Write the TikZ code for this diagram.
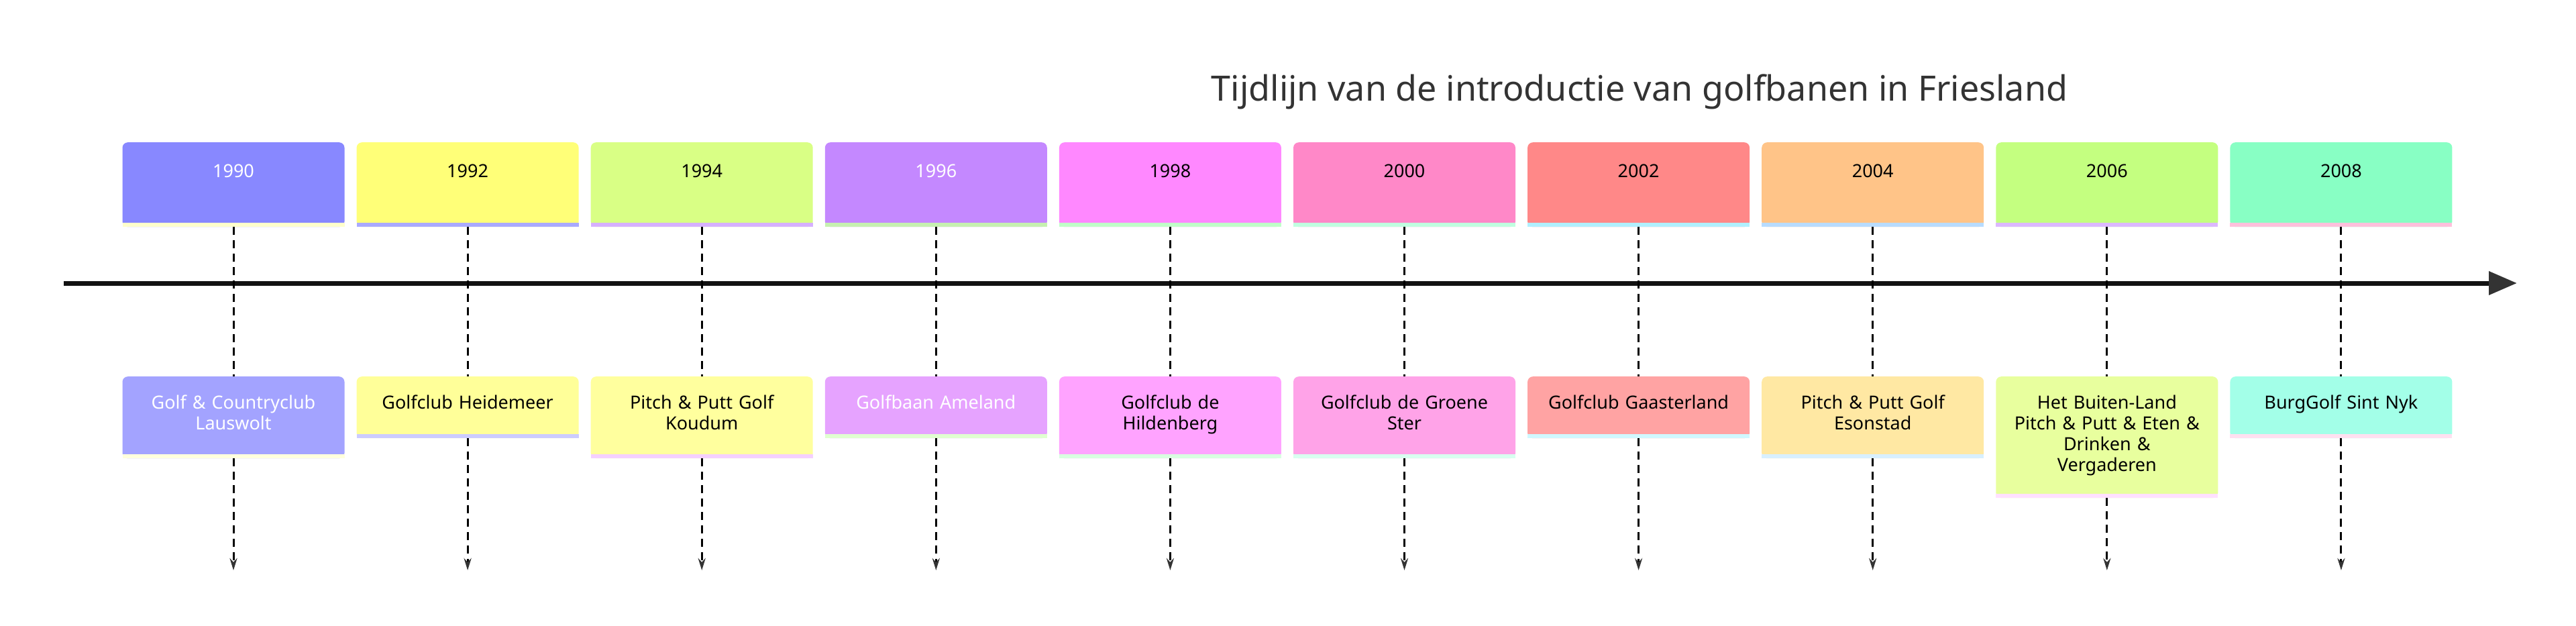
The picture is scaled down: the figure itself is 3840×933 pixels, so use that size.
\documentclass[tikz,border=0pt]{standalone}
\usepackage{fontspec}
\setmainfont{Noto Sans}
\usetikzlibrary{arrows.meta}
\definecolor{ttl}{HTML}{333333}
\tikzset{
  boxbase/.style={draw=none,rounded corners=8pt,minimum width=331pt,inner sep=0pt,anchor=north},
  txt/.style={font=\fontsize{27}{31}\selectfont,align=center,text width=300pt,inner sep=0pt},
  conn/.style={draw=black,line width=3pt,dash pattern=on 12pt off 8pt},
}
\begin{document}
\begin{tikzpicture}[x=1pt,y=-1pt]
\useasboundingbox (0,0) rectangle (3840,933);
\fill[white] (0,0) rectangle (3840,933);
\node[font=\fontsize{52}{60}\bfseries\selectfont,text=ttl] (title) at (2444,137) {Tijdlijn van de introductie van golfbanen in Friesland};
\coordinate (tl0) at (95,422);
\coordinate (tl1) at (3752,422);
\draw[line width=7pt,color=black!93,-{Triangle[length=42pt,width=34pt,color=ttl]}] (tl0) -- (tl1);
\foreach \i/\yr/\yf/\ys/\yt/\ev/\ef/\es/\et/\h in {
 0/1990/8888FF/FFFFCC/white/{Golf \& Countryclub\\Lauswolt}/A3A3FF/FFFFDD/white/122,
 1/1992/FFFF78/AAAAFF/black/{Golfclub Heidemeer}/FFFF99/CCCCFF/black/92,
 2/1994/D9FF85/D6B0FF/black/{Pitch \& Putt Golf\\Koudum}/FFFF9E/F5D0FF/black/122,
 3/1996/C488FF/C6F0B0/white/{Golfbaan Ameland}/E6A3FF/E0FFD0/white/92,
 4/1998/FF88FF/C0FFC8/black/{Golfclub de\\Hildenberg}/FFA3FF/D8FFE0/black/122,
 5/2000/FF88C8/C0FFE0/black/{Golfclub de Groene\\Ster}/FFA3E8/D8FFF0/black/122,
 6/2002/FF8888/B0F0FF/black/{Golfclub Gaasterland}/FFA3A3/D0F8FF/black/92,
 7/2004/FFC488/B8DCFF/black/{Pitch \& Putt Golf\\Esonstad}/FFE8A3/D8F0FF/black/122,
 8/2006/C4FF80/DCB8FF/black/{Het Buiten-Land\\Pitch \& Putt \& Eten \&\\Drinken \&\\Vergaderen}/E8FF9E/FFE0FF/black/181,
 9/2008/88FFC4/FFC0DC/black/{BurgGolf Sint Nyk}/A3FFE8/FFE0F0/black/92}
{
 \pgfmathsetmacro{\cx}{348+349.1*\i}
 \pgfmathsetmacro{\eb}{561+\h}
 \pgfmathsetmacro{\ebs}{561+\h-6}
 \definecolor{yf\i}{HTML}{\yf}\definecolor{ys\i}{HTML}{\ys}
 \definecolor{ef\i}{HTML}{\ef}\definecolor{es\i}{HTML}{\es}
 \node[boxbase,fill=yf\i,minimum height=126pt] (y\i) at (\cx,212) {};
 \fill[ys\i] (\cx-165.5,332) rectangle (\cx+165.5,338);
 \node[txt,text=\yt] (yt\i) at (\cx,255) {\yr};
 \node[boxbase,fill=ef\i,minimum height=\h pt] (e\i) at (\cx,561) {};
 \fill[es\i] (\cx-165.5,\ebs) rectangle (\cx+165.5,\eb);
 \node[txt,text=\et,anchor=north] (et\i) at (\cx,589) {\ev};
 \coordinate (end\i) at (\cx,850);
 \draw[conn] (y\i.south) -- (e\i.north);
 \draw[conn,-{Stealth[length=18pt,width=11pt,color=ttl]}] (e\i.south) -- (end\i);
}
\end{tikzpicture}
\end{document}
